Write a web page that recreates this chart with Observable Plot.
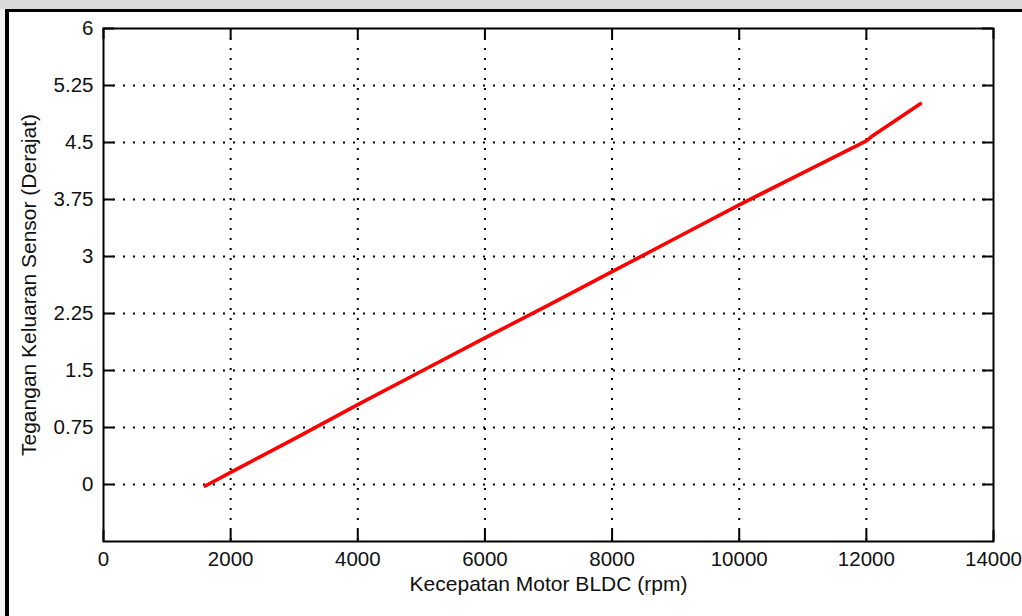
<!DOCTYPE html>
<html><head><meta charset="utf-8">
<script src="https://cdn.jsdelivr.net/npm/d3@7"></script>
<script src="https://cdn.jsdelivr.net/npm/@observablehq/plot@0.6"></script>
<style>
html,body{margin:0;padding:0;background:#fff;}
#wrap{position:relative;width:1022px;height:616px;overflow:hidden;background:#fff;}
#topband{position:absolute;left:0;top:0;width:1022px;height:9px;background:#dadada;}
#leftband{position:absolute;left:0;top:9px;width:5px;height:607px;background:#f2f2f2;}
#topline{position:absolute;left:5px;top:9px;width:1017px;height:3px;background:#000;}
#leftline{position:absolute;left:5px;top:9px;width:4px;height:607px;background:#000;}
#chart{position:absolute;left:0;top:0;}
</style></head>
<body>
<div id="wrap">
  <div id="topband"></div><div id="leftband"></div>
  <div id="topline"></div><div id="leftline"></div>
  <div id="chart"></div>
</div>
<script>
// Data
const kecepatanRpm = [1600, 2000, 3000, 4000, 5000, 6000, 7000, 8000, 9000, 10000, 11000, 12000, 12100, 12850];
const teganganSensor = [-0.02, 0.16, 0.60, 1.05, 1.49, 1.93, 2.36, 2.80, 3.24, 3.68, 4.10, 4.52, 4.59, 5.01];
const xTicks = [0, 2000, 4000, 6000, 8000, 10000, 12000, 14000];
const yTicks = [0, 0.75, 1.5, 2.25, 3, 3.75, 4.5, 5.25, 6];
const xGrid = [2000, 4000, 6000, 8000, 10000, 12000];
const yGrid = [0, 0.75, 1.5, 2.25, 3, 3.75, 4.5, 5.25];
const xLabel = "Kecepatan Motor BLDC (rpm)";
const yLabel = "Tegangan Keluaran Sensor (Derajat)";

const data = kecepatanRpm.map((x, i) => ({x, y: teganganSensor[i]}));

const W = 1022, H = 616;
const mL = 103, mR = 29, mT = 28, mB = 75;
const innerW = W - mL - mR, innerH = H - mT - mB;
const tickLen = 11;

const chart = Plot.plot({
  width: W, height: H,
  marginLeft: mL, marginRight: mR, marginTop: mT, marginBottom: mB,
  style: {fontFamily: "'Liberation Sans', Arial, sans-serif", fontSize: "20.5px", color: "#111", background: "transparent"},
  x: {domain: [0, 14000]},
  y: {domain: [-0.75, 6]},
  marks: [
    Plot.gridX(xGrid, {stroke: "#000", strokeOpacity: 1, strokeWidth: 2, strokeDasharray: "2,8"}),
    Plot.gridY(yGrid, {stroke: "#000", strokeOpacity: 1, strokeWidth: 2, strokeDasharray: "2,8"}),
    Plot.tickX(xTicks, {x: d => d, stroke: "#000", strokeWidth: 2, insetTop: innerH - tickLen}),
    Plot.tickX(xTicks, {x: d => d, stroke: "#000", strokeWidth: 2, insetBottom: innerH - tickLen}),
    Plot.tickY(yTicks, {y: d => d, stroke: "#000", strokeWidth: 2, insetRight: innerW - tickLen}),
    Plot.tickY(yTicks, {y: d => d, stroke: "#000", strokeWidth: 2, insetLeft: innerW - tickLen}),
    Plot.axisX(xTicks, {tickSize: 0, tickPadding: 10, label: null, tickFormat: d => String(d), fontSize: 20.5}),
    Plot.axisY(yTicks, {tickSize: 0, tickPadding: 10, label: null, tickFormat: d => String(d), fontSize: 20.5}),
    Plot.frame({stroke: "#000", strokeWidth: 2}),
    Plot.line(data, {x: "x", y: "y", stroke: "#ff0000", strokeWidth: 3.6}),
    Plot.text([xLabel], {frameAnchor: "bottom", dy: 49, text: d => d, fontSize: 21, fill: "#111"}),
    Plot.text([yLabel], {frameAnchor: "left", dx: -74, rotate: -90, textAnchor: "middle", text: d => d, fontSize: 21, fill: "#111"})
  ]
});
document.getElementById("chart").appendChild(chart);
</script>
</body></html>
